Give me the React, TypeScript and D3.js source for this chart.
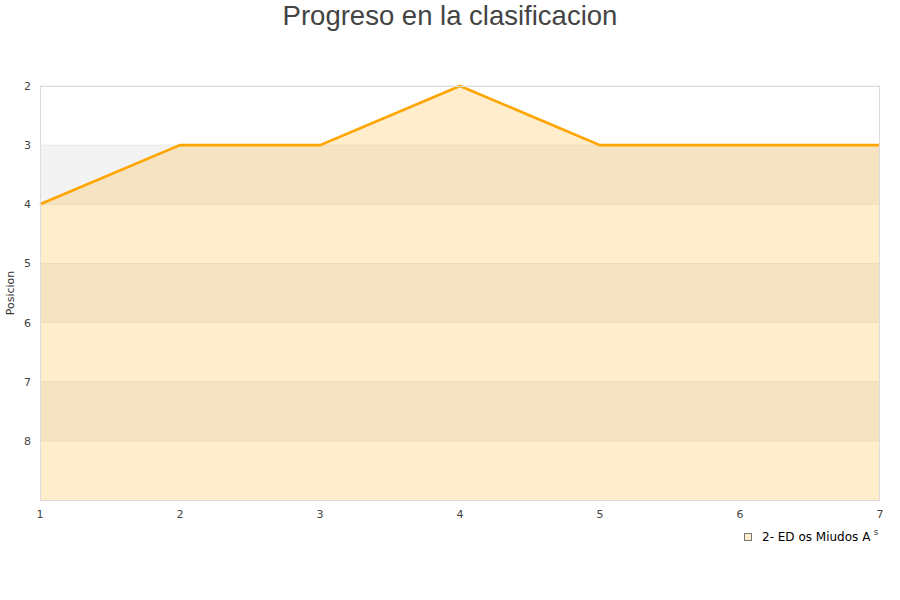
import * as d3 from "d3";

const jornadas = [1, 2, 3, 4, 5, 6, 7];
const posiciones = [4, 3, 3, 2, 3, 3, 3];
const yTicks = [2, 3, 4, 5, 6, 7, 8];
const seriesName = "2- ED os Miudos A";

const W = 900;
const H = 600;
const left = 40;
const right = 880;
const top = 86;
const bottom = 500;

const App = () => {
  const x = d3.scaleLinear().domain([1, 7]).range([left, right]);
  const y = d3.scaleLinear().domain([2, 9]).range([top, bottom]);

  const pts = jornadas.map((j, i) => ({ j, p: posiciones[i] }));
  const area = d3
    .area<{ j: number; p: number }>()
    .x((d) => x(d.j))
    .y0(y(9))
    .y1((d) => y(d.p));
  const line = d3
    .line<{ j: number; p: number }>()
    .x((d) => x(d.j))
    .y((d) => y(d.p));

  const bands = d3.range(2, 9);

  return (
    <svg
      width={W}
      height={H}
      style={{ position: "absolute", left: 0, top: 0, fontFamily: "DejaVu Sans, sans-serif" }}
    >
      <rect width={W} height={H} fill="#fff" />
      <text
        x={450}
        y={25}
        textAnchor="middle"
        fontSize={27.5}
        fill="#444"
        fontFamily="Liberation Sans, Arial, sans-serif"
      >
        Progreso en la clasificacion
      </text>

      {/* alternating bands */}
      {bands.map((b, i) => (
        <rect
          key={b}
          x={left}
          y={y(b)}
          width={right - left}
          height={y(b + 1) - y(b)}
          fill={i % 2 === 1 ? "#f3f3f3" : "#fff"}
        />
      ))}
      {yTicks.map((t) => (
        <line key={t} x1={left} x2={right} y1={y(t)} y2={y(t)} stroke="#e8e8e8" />
      ))}

      <path d={area(pts) ?? ""} fill="rgba(255,165,0,0.2)" />
      <path d={line(pts) ?? ""} fill="none" stroke="#ffa500" strokeWidth={2.6} />

      <rect
        x={left + 0.5}
        y={top + 0.5}
        width={right - left - 1}
        height={bottom - top}
        fill="none"
        stroke="#dcdcdc"
      />

      {yTicks.map((t) => (
        <text key={t} x={31} y={y(t) + 4} textAnchor="end" fontSize={11} fill="#444">
          {t}
        </text>
      ))}
      {jornadas.map((j) => (
        <text key={j} x={x(j)} y={518} textAnchor="middle" fontSize={11} fill="#444">
          {j}
        </text>
      ))}

      <text
        transform="translate(14,293) rotate(-90)"
        textAnchor="middle"
        fontSize={11}
        fill="#333"
      >
        Posicion
      </text>
      <text x={876} y={535} textAnchor="middle" fontSize={9} fill="#444">
        s
      </text>

      <rect x={744.5} y={533.5} width={7} height={7} fill="#ffedcc" stroke="#777" />
      <text x={762} y={541} fontSize={12} fill="#000">
        {seriesName}
      </text>
    </svg>
  );
};

export default App;
